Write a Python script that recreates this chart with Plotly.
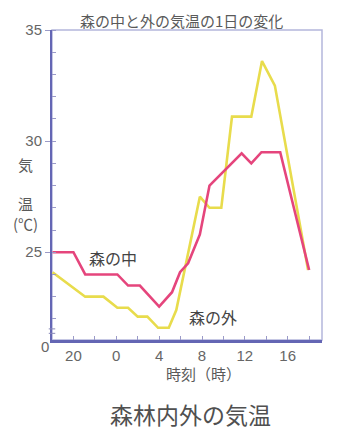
import plotly.graph_objects as go

# Hours (continuous, 18 = 18:00 of first day, 42 = 18:00 next day)
inside_hours = [18.05, 20.0, 21.1, 24.1, 25.1, 26.2, 28.0, 29.2, 29.95, 30.7, 31.8, 32.7, 35.7, 36.6, 37.55, 39.3, 42.0]
inside_temp  = [25.0, 25.0, 24.0, 24.0, 23.5, 23.5, 22.55, 23.2, 24.1, 24.5, 25.8, 28.0, 29.45, 29.0, 29.5, 29.5, 24.2]

outside_hours = [18.05, 21.1, 22.8, 24.1, 25.1, 26.0, 26.9, 27.9, 28.9, 29.6, 31.8, 32.7, 33.8, 34.8, 36.6, 37.6, 38.8, 41.9]
outside_temp  = [24.1, 23.0, 23.0, 22.5, 22.5, 22.1, 22.1, 21.6, 21.6, 22.4, 27.5, 27.0, 27.0, 31.1, 31.1, 33.6, 32.5, 24.2]

x_tickvals = [20, 24, 28, 32, 36, 40]
x_ticktext = ["20", "0", "4", "8", "12", "16"]
y_tickvals = [25, 30, 35]
y_ticktext = ["25", "30", "35"]

title_text = "森の中と外の気温の1日の変化"
caption_text = "森林内外の気温"
inside_label = "森の中"
outside_label = "森の外"
x_title = "時刻（時）"
y_title = "気<br><br>温<br>(℃)"

FONT = "Liberation Sans, Noto Sans CJK JP, sans-serif"
JFONT = "Noto Sans CJK JP, sans-serif"
GRAY = "#5a5a5a"
AXIS = "#6466b4"
FRAME = "#b4b6dc"

OFF = 8  # page body margin
W, H = 337 - OFF, 432 - OFF
ML, MR, MT = 52 - OFF, 15, 30 - OFF
PW = W - ML - MR
PH = 310
MB = H - MT - PH

fig = go.Figure()
fig.add_trace(go.Scatter(x=outside_hours, y=outside_temp, mode="lines",
                         line=dict(color="#e8dc4c", width=2.6), name=outside_label))
fig.add_trace(go.Scatter(x=inside_hours, y=inside_temp, mode="lines",
                         line=dict(color="#e5457c", width=2.6), name=inside_label))

fig.update_layout(
    width=W, height=H,
    margin=dict(l=ML, r=MR, t=MT, b=MB, pad=0),
    paper_bgcolor="white", plot_bgcolor="white",
    showlegend=False,
    font=dict(family=FONT, color=GRAY, size=15),
)

fig.update_xaxes(
    range=[18, 43.2], showgrid=False, zeroline=False,
    showline=True, linecolor=AXIS, linewidth=2.5,
    tickvals=x_tickvals, ticktext=x_ticktext,
    ticks="inside", ticklen=4, tickcolor="#9a9ac8",
    tickfont=dict(size=15, color="#666666", family=FONT),
    minor=dict(dtick=2, tick0=18, ticks="inside", ticklen=4, tickcolor="#9a9ac8"),
)
fig.update_yaxes(
    range=[21.05, 35], showgrid=False, zeroline=False,
    showline=True, linecolor=AXIS, linewidth=2,
    tickvals=y_tickvals, ticktext=y_ticktext,
    ticks="outside", ticklen=5, tickcolor="#9a9ac8",
    tickfont=dict(size=15, color="#666666", family=FONT),
    minor=dict(dtick=1, tick0=21, ticks="inside", ticklen=4, tickcolor="#9a9ac8"),
)

# light frame on top/right
fig.add_shape(type="rect", xref="paper", yref="paper", x0=0, x1=1, y0=0, y1=1,
              line=dict(color=FRAME, width=1.5), layer="below")
# axis break mark
for yb in [21.35, 21.55]:
    fig.add_shape(type="line", xref="paper", yref="paper", x0=-0.012, x1=0.012,
                  y0=(yb - 21.05) / (35 - 21.05), y1=(yb - 21.05) / (35 - 21.05),
                  line=dict(color="#8a8ab8", width=1))


def to_paper(px, py):
    fx, fy = px - OFF, py - OFF
    return (fx - ML) / PW, 1 - (fy - MT) / PH


annotations = [
    dict(text=title_text, x=181, y=20, font=dict(size=15, color=GRAY, family=JFONT)),
    dict(text=caption_text, x=190, y=414, font=dict(size=23, color="#505050", family=JFONT)),
    dict(text=inside_label, x=113, y=258, font=dict(size=16, color="#444444", family=JFONT)),
    dict(text=outside_label, x=213, y=317, font=dict(size=16, color="#444444", family=JFONT)),
    dict(text=x_title, x=203, y=373, font=dict(size=15, color=GRAY, family=JFONT)),
    dict(text="0", x=45, y=347, font=dict(size=15, color="#666666", family=FONT)),
    dict(text=y_title, x=25, y=194, font=dict(size=15, color=GRAY, family=JFONT)),
]
for a in annotations:
    xp, yp = to_paper(a["x"], a["y"])
    fig.add_annotation(text=a["text"], xref="paper", yref="paper", x=xp, y=yp,
                       showarrow=False, font=a["font"], xanchor="center", yanchor="middle",
                       align="center")

fig.write_html("out.html")
